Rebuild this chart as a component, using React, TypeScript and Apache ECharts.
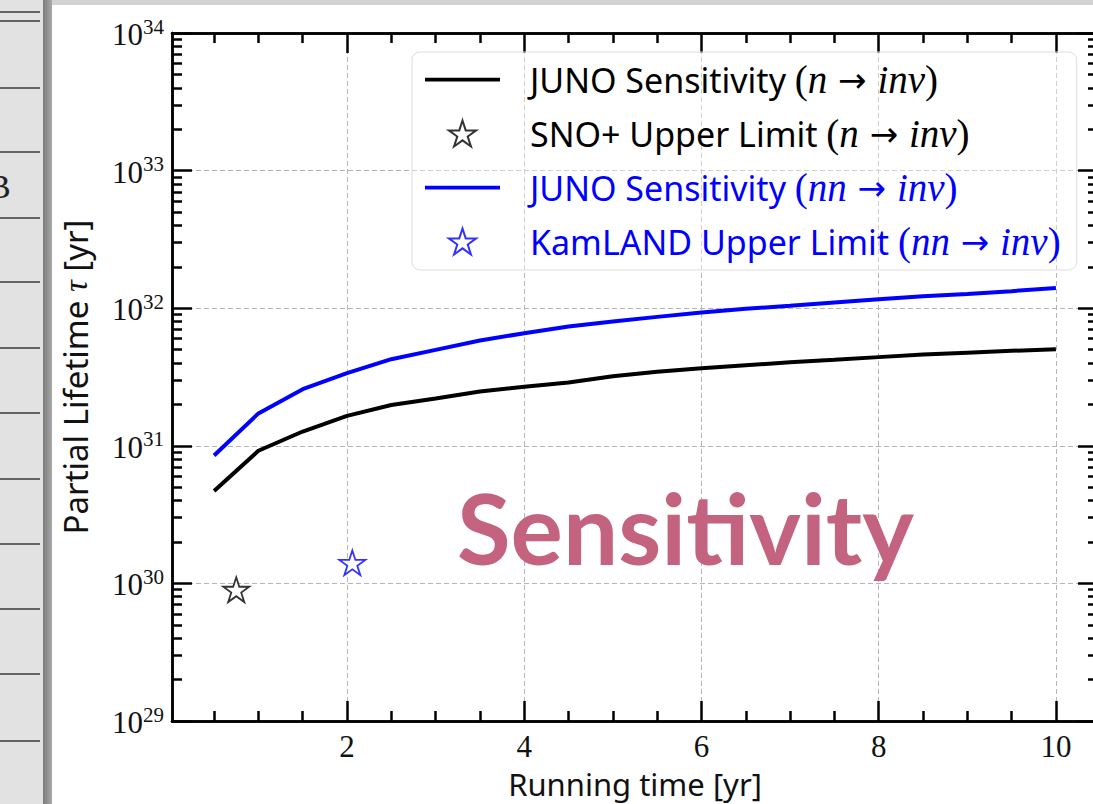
import React, { useEffect, useRef } from "react";
import * as echarts from "echarts";

const years = [0.5, 1, 1.5, 2, 2.5, 3, 3.5, 4, 4.5, 5, 5.5, 6, 6.5, 7, 7.5, 8, 8.5, 9, 9.5, 10];
const junoN = [4.7e30, 9.2e30, 1.27e31, 1.65e31, 1.98e31, 2.21e31, 2.48e31, 2.69e31, 2.88e31, 3.2e31, 3.45e31, 3.66e31, 3.85e31, 4.05e31, 4.22e31, 4.41e31, 4.6e31, 4.75e31, 4.9e31, 5.04e31];
const junoNN = [8.5e30, 1.72e31, 2.58e31, 3.37e31, 4.26e31, 4.98e31, 5.82e31, 6.58e31, 7.35e31, 8.0e31, 8.65e31, 9.3e31, 9.9e31, 1.04e32, 1.1e32, 1.16e32, 1.22e32, 1.27e32, 1.33e32, 1.4e32];
const snoPoint = [0.75, 9.0e29];
const kamlandPoint = [2.06, 1.41e30];

const xMajorTicks = [2, 4, 6, 8, 10];
const xMinorTicks = [0.5, 1, 1.5, 2.5, 3, 3.5, 4.5, 5, 5.5, 6.5, 7, 7.5, 8.5, 9, 9.5];
const yDecades = [29, 30, 31, 32, 33, 34];
const yMinorMultipliers = [2, 3, 4, 5, 6, 7, 8, 9];

const names = [
  "JUNO Sensitivity (n → inv)",
  "SNO+ Upper Limit (n → inv)",
  "JUNO Sensitivity (nn → inv)",
  "KamLAND Upper Limit (nn → inv)",
];

const STAR = "path://M50,0L61.2,34.5L97.6,34.5L68.2,55.9L79.4,90.5L50,69.1L20.6,90.5L31.8,55.9L2.4,34.5L38.8,34.5Z";
const LINE_ICON = "path://M0,0L100,0L100,5L0,5Z";

const SANS = '"Noto Sans", "Open Sans", sans-serif';
const SERIF = '"Liberation Serif", "DejaVu Serif", serif';

export default function App() {
  const ref = useRef<HTMLDivElement>(null);
  useEffect(() => {
    document.body.style.margin = "0";
    if (!ref.current) return;
    const chart = echarts.init(ref.current, null, { renderer: "svg" });

    const yMajor = yDecades.map((d) => Math.pow(10, d));
    const yMinor: number[] = [];
    yDecades.slice(0, -1).forEach((d) => yMinorMultipliers.forEach((m) => yMinor.push(m * Math.pow(10, d))));

    const grid = { left: 172, top: 33, width: 926, height: 688, outerBoundsMode: "none", containLabel: false };
    const xMin = 0.025, xMax = 10.475;
    const axisLineStyle = { color: "#000", width: 2.5 };
    const dashed = { color: "#b5b5b5", width: 1, type: [5, 3] as any };

    const mkX = (pos: string, major: boolean, main: boolean) => ({
      type: "value",
      position: pos,
      min: xMin,
      max: xMax,
      axisLine: { show: true, onZero: false, lineStyle: axisLineStyle },
      axisTick: {
        show: true,
        inside: true,
        length: major ? 20 : 10,
        lineStyle: { color: "#000", width: 2.5 },
        customValues: major ? xMajorTicks : xMinorTicks,
      },
      axisLabel: main
        ? {
            show: true,
            customValues: xMajorTicks,
            fontFamily: SERIF,
            fontSize: 31,
            color: "#111",
            margin: 10,
            formatter: (v: number) => String(v),
          }
        : { show: false },
      splitLine: { show: main, lineStyle: dashed },
      name: main ? "Running time [yr]" : "",
      nameLocation: "middle",
      nameGap: 33,
      nameTextStyle: { fontFamily: SANS, fontSize: 31, color: "#111", lineHeight: 34 },
    });

    const mkY = (pos: string, major: boolean, main: boolean) => ({
      type: "log",
      logBase: 10,
      position: pos,
      min: 1e29,
      max: 1e34,
      axisLine: { show: true, onZero: false, lineStyle: axisLineStyle },
      axisTick: {
        show: true,
        inside: true,
        length: major ? 20 : 10,
        lineStyle: { color: "#000", width: 2.5 },
        customValues: major ? yMajor : yMinor,
      },
      axisLabel: main
        ? {
            show: true,
            customValues: yMajor,
            margin: 8,
            formatter: (v: number) => "{b|10}{s|" + Math.round(Math.log10(v)) + "}",
            rich: {
              b: { fontFamily: SERIF, fontSize: 31, color: "#111", verticalAlign: "bottom", lineHeight: 34 },
              s: { fontFamily: SERIF, fontSize: 21, color: "#111", verticalAlign: "top", lineHeight: 34 },
            },
          }
        : { show: false },
      splitLine: { show: main, lineStyle: dashed },
      name: main ? "{a|Partial Lifetime }{t|τ}{a| [yr]}" : "",
      nameLocation: "middle",
      nameRotate: 90,
      nameGap: 80,
      nameTextStyle: {
        rich: {
          a: { fontFamily: SANS, fontSize: 33, color: "#111" },
          t: { fontFamily: SERIF, fontStyle: "italic", fontSize: 33, color: "#111" },
        },
      },
    });

    const legendFormatter = (name: string) => {
      const blue = name.indexOf("nn") >= 0;
      const idx = name.indexOf("(");
      const head = name.slice(0, idx);
      const math = name.slice(idx + 1, name.length - 1).split(" → ");
      const k = blue ? "B" : "K";
      return `{t${k}|${head}}{p${k}|(}{i${k}|${math[0]}}{a${k}| → }{i${k}|${math[1]}}{p${k}|)}`;
    };
    const richFor = (c: string) => ({
      t: { fontFamily: SANS, fontSize: 34, color: c, lineHeight: 34 },
      p: { fontFamily: SERIF, fontSize: 39, color: c, lineHeight: 34 },
      a: { fontFamily: '"DejaVu Sans"', fontSize: 34, color: c, lineHeight: 34 },
      i: { fontFamily: SERIF, fontStyle: "italic", fontSize: 39, color: c, lineHeight: 34 },
    });
    const rk = richFor("#000");
    const rb = richFor("#0000ff");

    const option: any = {
      animation: false,
      backgroundColor: "#fff",
      grid,
      xAxis: [mkX("bottom", true, true), mkX("bottom", false, false), mkX("top", true, false), mkX("top", false, false)],
      yAxis: [mkY("left", true, true), mkY("left", false, false), mkY("right", true, false), mkY("right", false, false)],
      legend: {
        orient: "vertical",
        left: 412,
        top: 52,
        padding: [8, 16, 9, 13],
        itemWidth: 75,
        itemHeight: 26,
        itemGap: 15,
        backgroundColor: "rgba(255,255,255,0.35)",
        borderColor: "#dedede",
        borderWidth: 1,
        borderRadius: 8,
        formatter: legendFormatter,
        textStyle: {
          padding: [0, 0, 0, 25],
          rich: {
            tK: rk.t, pK: rk.p, iK: rk.i, aK: rk.a,
            tB: rb.t, pB: rb.p, iB: rb.i, aB: rb.a,
          },
        },
        data: [
          { name: names[0], icon: LINE_ICON },
          { name: names[1] },
          { name: names[2], icon: LINE_ICON },
          { name: names[3] },
        ],
      },
      series: [
        {
          name: names[0],
          type: "line",
          data: years.map((x, i) => [x, junoN[i]]),
          symbol: "none",
          lineStyle: { color: "#000", width: 4 },
          itemStyle: { color: "#000" },
          z: 5,
        },
        {
          name: names[1],
          type: "scatter",
          data: [snoPoint],
          symbol: STAR,
          symbolSize: 26,
          symbolKeepAspect: true,
          itemStyle: { color: "#fff", borderColor: "#000", borderWidth: 1.8 },
          z: 5,
        },
        {
          name: names[2],
          type: "line",
          data: years.map((x, i) => [x, junoNN[i]]),
          symbol: "none",
          lineStyle: { color: "#0000ff", width: 4 },
          itemStyle: { color: "#0000ff" },
          z: 5,
        },
        {
          name: names[3],
          type: "scatter",
          data: [kamlandPoint],
          symbol: STAR,
          symbolSize: 26,
          symbolKeepAspect: true,
          itemStyle: { color: "#fff", borderColor: "#0000ff", borderWidth: 1.8 },
          z: 5,
        },
      ],
      graphic: [
        { type: "rect", silent: true, z: 100, shape: { x: 0, y: 0, width: 43, height: 804 }, style: { fill: "#e2e2e2" } },
        {
          type: "rect", silent: true, z: 100,
          shape: { x: 43, y: 0, width: 9, height: 804 },
          style: { fill: new echarts.graphic.LinearGradient(0, 0, 1, 0, [{ offset: 0, color: "#7c7c7c" }, { offset: 1, color: "#a8a8a8" }]) },
        },
        { type: "rect", silent: true, z: 100, shape: { x: 52, y: 0, width: 1041, height: 5 }, style: { fill: "#d2d2d2" } },
        ...[12, 21, 88, 152, 218, 282, 348, 413, 479, 544, 609, 674, 741].map((y) => ({
          type: "line", silent: true, z: 101,
          shape: { x1: 0, y1: y, x2: 40, y2: y },
          style: { stroke: "#3a3a3a", lineWidth: 1.5 },
        })),
        {
          type: "text", silent: true, z: 101, x: -12, y: 186,
          style: { text: "B", font: '34px "Liberation Serif"', fill: "#222", verticalAlign: "middle" },
        },
        {
          type: "text", silent: true, z: 102, x: 457, y: 527,
          style: { text: "Sensitivity", font: 'bold 98px Lato', fill: "#c4637f", verticalAlign: "middle" },
        },
      ],
    };
    chart.setOption(option);
    return () => chart.dispose();
  }, []);
  return <div ref={ref} style={{ width: 1093, height: 804 }} />;
}
